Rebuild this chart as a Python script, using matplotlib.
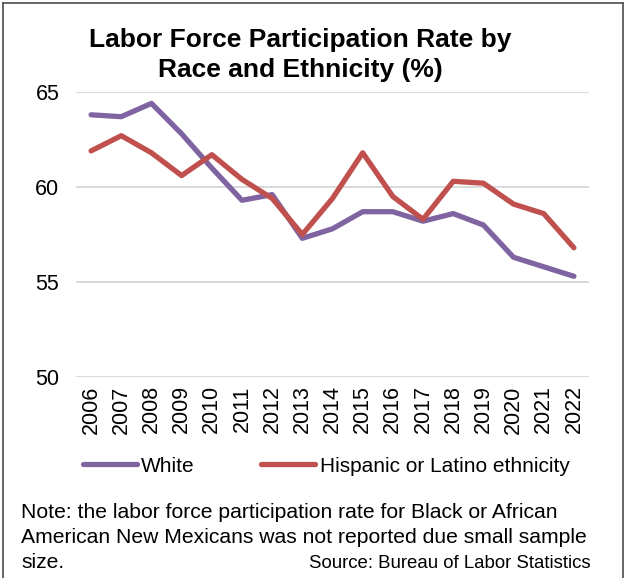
import matplotlib
matplotlib.use("Agg")
import matplotlib.pyplot as plt
from matplotlib.lines import Line2D

plt.rcParams["font.family"] = ["Liberation Sans", "DejaVu Sans"]

years = ["2006", "2007", "2008", "2009", "2010", "2011", "2012", "2013", "2014",
         "2015", "2016", "2017", "2018", "2019", "2020", "2021", "2022"]
white = [63.8, 63.7, 64.4, 62.8, 61.0, 59.3, 59.6, 57.3, 57.8,
         58.7, 58.7, 58.2, 58.6, 58.0, 56.3, 55.8, 55.3]
hispanic = [61.9, 62.7, 61.8, 60.6, 61.7, 60.4, 59.4, 57.5, 59.4,
            61.8, 59.5, 58.3, 60.3, 60.2, 59.1, 58.6, 56.8]
series_names = ["White", "Hispanic or Latino ethnicity"]
y_ticks = [50, 55, 60, 65]

title = "Labor Force Participation Rate by\nRace and Ethnicity (%)"
note_lines = [
    "Note: the labor force participation rate for Black or African",
    "American New Mexicans was not reported due small sample",
    "size.",
]
source = "Source: Bureau of Labor Statistics"

W, H = 626, 578
fig = plt.figure(figsize=(W / 100, H / 100), dpi=100)
fig.patch.set_facecolor("white")

# outer frame (left, top, right edges)
frame_color = "#595959"
for xs, ys in [([2.5, 2.5], [0, H - 2.5]), ([2.5, W - 3], [H - 2.5, H - 2.5]),
               ([W - 3, W - 3], [0, H - 2.5])]:
    fig.add_artist(Line2D([x / W for x in xs], [y / H for y in ys],
                          transform=fig.transFigure, color=frame_color, lw=1.3))

left, right, top, bottom = 76, 589, 92, 377
ax = fig.add_axes([left / W, 1 - bottom / H, (right - left) / W, (bottom - top) / H])
x = list(range(len(years)))
ax.plot(x, white, color="#8064A2", lw=3.8, solid_capstyle="round",
        solid_joinstyle="round", label=series_names[0], zorder=3)
ax.plot(x, hispanic, color="#C0504D", lw=3.8, solid_capstyle="round",
        solid_joinstyle="round", label=series_names[1], zorder=4)

ax.set_xlim(-0.5, len(years) - 0.5)
ax.set_ylim(50, 65)
ax.set_yticks(y_ticks)
ax.set_xticks(x)
ax.set_xticklabels(years, rotation=90)
ax.grid(axis="y", color="#d9d9d9", lw=1.4)
ax.set_axisbelow(True)
for s in ax.spines.values():
    s.set_visible(False)
ax.tick_params(axis="both", length=0, labelsize=15.5, colors="black")
ax.tick_params(axis="y", pad=12)
ax.tick_params(axis="x", pad=6)

fig.text(300 / W, 1 - 55 / H, title, ha="center", va="center", fontsize=19,
         fontweight="bold", linespacing=1.3)

leg = fig.legend(loc="center", bbox_to_anchor=(326 / W, 1 - 466 / H), ncol=2,
                 frameon=False, fontsize=15, handlelength=2.6,
                 handletextpad=0.2, columnspacing=3.2, borderpad=0)

base = [518, 543, 567.5]
for line, b in zip(note_lines, base):
    fig.text(21 / W, 1 - b / H, line, ha="left", va="baseline", fontsize=15.2)
fig.text(591 / W, 1 - 568 / H, source, ha="right", va="baseline", fontsize=13.4)

fig.savefig("out.png", dpi=100, facecolor="white")
